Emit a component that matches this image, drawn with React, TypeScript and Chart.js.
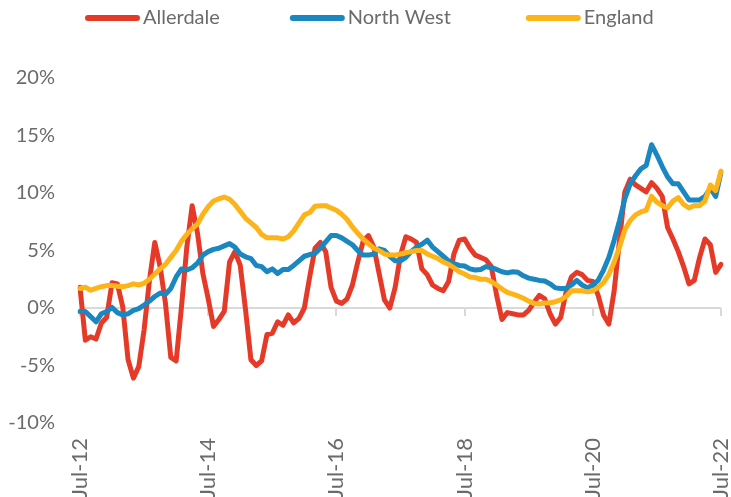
import React, { useEffect, useRef } from 'react';
import { Chart, registerables } from 'chart.js';

Chart.register(...registerables);

const MONTHS = ['Jan', 'Feb', 'Mar', 'Apr', 'May', 'Jun', 'Jul', 'Aug', 'Sep', 'Oct', 'Nov', 'Dec'];
const categories: string[] = [];
for (let i = 0; i < 121; i++) {
  const m = (6 + i) % 12;
  const y = 12 + Math.floor((6 + i) / 12);
  categories.push(`${MONTHS[m]}-${y}`);
}

const tickLabels = ['Jul-12', 'Jul-14', 'Jul-16', 'Jul-18', 'Jul-20', 'Jul-22'];

const allerdale = [
  1.8, -2.8, -2.5, -2.7, -1.3, -0.8, 2.2, 2.1, 0.1, -4.5, -6.1, -5.1,
  -1.9, 2.4, 5.7, 3.6, 0.4, -4.3, -4.6, 0.1, 5.3, 8.9, 6.5, 3.0,
  0.8, -1.6, -1.0, -0.3, 4.0, 4.9, 3.7, -0.2, -4.5, -5.0, -4.6, -2.3,
  -2.2, -1.2, -1.5, -0.6, -1.3, -0.9, 0.0, 2.7, 5.2, 5.7, 4.9, 1.8,
  0.6, 0.4, 0.8, 2.0, 4.0, 5.8, 6.3, 5.3, 3.0, 0.7, 0.0, 1.8,
  4.6, 6.2, 6.0, 5.7, 3.4, 2.9, 2.0, 1.7, 1.5, 2.3, 4.7, 5.9,
  6.0, 5.2, 4.6, 4.4, 4.2, 3.6, 1.1, -1.0, -0.4, -0.5, -0.6, -0.6,
  -0.2, 0.5, 1.1, 0.8, -0.5, -1.4, -0.8, 1.4, 2.7, 3.1, 2.9, 2.4,
  2.3, 1.1, -0.6, -1.4, 1.5, 5.9, 10.1, 11.2, 10.7, 10.4, 10.1, 10.9,
  10.4, 9.7, 7.0, 6.0, 4.9, 3.6, 2.1, 2.4, 4.4, 6.0, 5.5, 3.1,
  3.8,
];

const northWest = [
  -0.3, -0.3, -0.75, -1.2, -0.5, -0.3, 0.05, -0.4, -0.6, -0.5, -0.2, -0.05,
  0.25, 0.6, 1.0, 1.3, 1.2, 1.7, 2.7, 3.4, 3.3, 3.5, 3.9, 4.6,
  4.9, 5.1, 5.2, 5.4, 5.6, 5.3, 4.7, 4.45, 4.3, 3.7, 3.6, 3.15,
  3.4, 3.0, 3.35, 3.35, 3.7, 4.1, 4.5, 4.65, 4.75, 5.2, 5.75, 6.3,
  6.3, 6.1, 5.8, 5.5, 5.0, 4.6, 4.6, 4.7, 5.15, 5.0, 4.5, 4.1,
  4.1, 4.4, 4.9, 5.3, 5.55, 5.9, 5.3, 4.9, 4.5, 4.1, 3.85, 3.7,
  3.65, 3.4, 3.3, 3.35, 3.6, 3.5, 3.35, 3.15, 3.05, 3.15, 3.1, 2.8,
  2.6, 2.5, 2.4, 2.35, 2.1, 1.75, 1.7, 1.7, 2.0, 2.4, 2.0, 1.75,
  2.0, 2.4, 3.3, 4.4, 5.9, 7.6, 9.5, 10.8, 11.5, 12.1, 12.4, 14.2,
  13.3, 12.3, 11.4, 10.8, 10.8, 10.1, 9.4, 9.4, 9.4, 9.7, 10.4, 9.7,
  11.8,
];

const england = [
  1.7, 1.8, 1.55, 1.7, 1.85, 1.95, 1.95, 1.9, 1.85, 1.95, 2.1, 2.0,
  2.15, 2.5, 2.95, 3.4, 3.8, 4.4, 5.0, 5.8, 6.4, 6.9, 7.3, 8.15,
  8.8, 9.3, 9.5, 9.65, 9.45, 9.0, 8.4, 7.8, 7.4, 7.0, 6.4, 6.1,
  6.1, 6.1, 6.0, 6.2, 6.7, 7.4, 8.1, 8.3, 8.85, 8.9, 8.9, 8.7,
  8.5, 8.15, 7.7, 7.05, 6.5, 6.0, 5.6, 5.2, 5.0, 4.7, 4.6, 4.6,
  4.7, 4.8, 4.9, 5.0, 5.0, 4.7, 4.5, 4.3, 4.0, 3.8, 3.5, 3.15,
  2.95, 2.7, 2.65, 2.5, 2.5, 2.3, 2.0, 1.65, 1.35, 1.2, 1.05, 0.85,
  0.6, 0.4, 0.35, 0.43, 0.46, 0.55, 0.7, 1.0, 1.5, 1.5, 1.5, 1.4,
  1.5, 1.8, 2.2, 2.9, 4.0, 5.3, 6.8, 7.6, 8.1, 8.35, 8.5, 9.7,
  9.2, 8.9, 8.7, 9.3, 9.6, 9.0, 8.7, 8.9, 8.9, 9.3, 10.7, 10.2,
  11.9,
];

const seriesNames = ['Allerdale', 'North West', 'England'];
const seriesColors = ['#E63A28', '#1A87C1', '#FCB419'];
const yTicks = [-10, -5, 0, 5, 10, 15, 20];

const TEXT_COLOR = '#6b6b6b';
const FONT = 'Lato';

const zeroTicksPlugin = {
  id: 'zeroTicks',
  beforeDatasetsDraw(chart: any) {
    const { ctx, scales } = chart;
    const x = scales.x;
    const y = scales.y;
    const y0 = y.getPixelForValue(0);
    ctx.save();
    ctx.strokeStyle = '#d9d9d9';
    ctx.lineWidth = 2;
    categories.forEach((c, i) => {
      if (tickLabels.includes(c)) {
        const px = Math.round(x.getPixelForValue(i));
        ctx.beginPath();
        ctx.moveTo(px, y0);
        ctx.lineTo(px, y0 + 8);
        ctx.stroke();
      }
    });
    ctx.restore();
  },
};

const legendPlugin = {
  id: 'customLegend',
  afterDraw(chart: any) {
    const { ctx } = chart;
    ctx.save();
    ctx.font = `20px ${FONT}`;
    ctx.textBaseline = 'middle';
    const lineLen = 55;
    const gapText = 3;
    const gapItems = [70, 75];
    let x = 85;
    const yc = 18;
    seriesNames.forEach((n, i) => {
      ctx.strokeStyle = seriesColors[i];
      ctx.lineWidth = 6;
      ctx.lineCap = 'round';
      ctx.beginPath();
      ctx.moveTo(x + 3, yc);
      ctx.lineTo(x + lineLen - 3, yc);
      ctx.stroke();
      ctx.fillStyle = TEXT_COLOR;
      ctx.textAlign = 'left';
      ctx.fillText(n, x + lineLen + gapText, yc);
      x += lineLen + gapText + ctx.measureText(n).width + (gapItems[i] || 0);
    });
    ctx.restore();
  },
};

export default function App() {
  const canvasRef = useRef<HTMLCanvasElement | null>(null);

  useEffect(() => {
    if (!canvasRef.current) return;
    const seriesData = [allerdale, northWest, england];
    const chart = new Chart(canvasRef.current, {
      type: 'line',
      data: {
        labels: categories,
        datasets: seriesNames.map((name, i) => ({
          label: name,
          data: seriesData[i],
          borderColor: seriesColors[i],
          backgroundColor: seriesColors[i],
          borderWidth: 5,
          pointRadius: 0,
          tension: 0,
          borderCapStyle: 'round' as const,
          borderJoinStyle: 'round' as const,
          fill: false,
          order: 3 - i,
        })),
      },
      options: {
        animation: false,
        responsive: false,
        devicePixelRatio: 1,
        layout: { padding: { top: 78, right: 10, left: 0, bottom: 0 } },
        plugins: {
          legend: { display: false },
          tooltip: { enabled: false },
        },
        scales: {
          x: {
            type: 'category',
            offset: false,
            grid: { display: false, drawTicks: false },
            border: { display: false },
            ticks: {
              autoSkip: false,
              maxRotation: 90,
              minRotation: 90,
              padding: 15,
              color: TEXT_COLOR,
              font: { family: FONT, size: 22 },
              callback: (_v: any, idx: number) =>
                tickLabels.includes(categories[idx]) ? categories[idx] : '',
            },
            afterFit: (scale: any) => {
              scale.height = 74;
              scale.paddingLeft = 0;
              scale.paddingRight = 0;
            },
          },
          y: {
            min: -10,
            max: 20,
            afterBuildTicks: (scale: any) => {
              scale.ticks = yTicks.map((v) => ({ value: v }));
            },
            grid: {
              drawTicks: false,
              lineWidth: 2,
              color: (c: any) => (c.tick && c.tick.value === 0 ? '#d9d9d9' : 'rgba(0,0,0,0)'),
            },
            border: { display: false },
            ticks: {
              padding: 25,
              color: TEXT_COLOR,
              font: { family: FONT, size: 20 },
              callback: (v: any) => `${v}%`,
            },
            afterFit: (scale: any) => {
              scale.width = 80;
            },
          },
        },
      },
      plugins: [zeroTicksPlugin, legendPlugin],
    });
    return () => chart.destroy();
  }, []);

  return (
    <div style={{ position: 'absolute', left: 0, top: 0, width: 731, height: 497, background: '#fff' }}>
      <canvas ref={canvasRef} width={731} height={497} style={{ width: 731, height: 497, display: 'block' }} />
    </div>
  );
}
